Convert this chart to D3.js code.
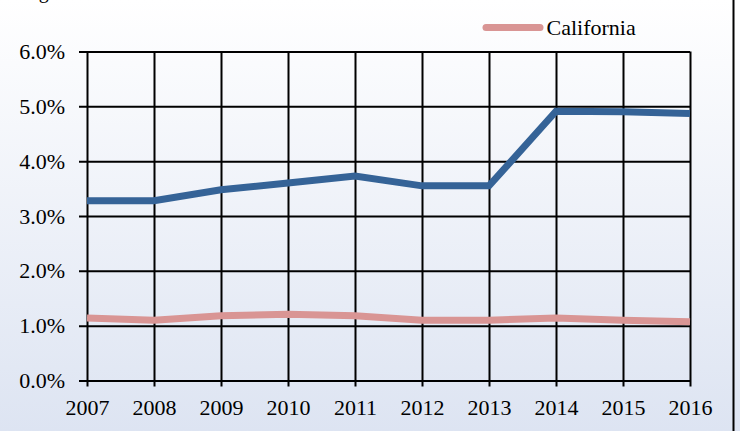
<!DOCTYPE html>
<html>
<head>
<meta charset="utf-8">
<script src="https://cdn.jsdelivr.net/npm/d3@7"></script>
<style>
  html, body { margin: 0; padding: 0; background: #fff; }
  svg { display: block; }
  svg text { font-family: 'Liberation Serif', 'Times New Roman', serif; font-size: 22px; fill: #000; }
</style>
</head>
<body>
<script>
// chart values
const years      = ['2007', '2008', '2009', '2010', '2011', '2012', '2013', '2014', '2015', '2016'];
const otherRate  = [3.28, 3.28, 3.48, 3.60, 3.73, 3.55, 3.55, 4.91, 4.90, 4.87];
const caRate     = [1.14, 1.10, 1.18, 1.21, 1.18, 1.10, 1.10, 1.14, 1.10, 1.07];
const yTicks     = [0, 1, 2, 3, 4, 5, 6];
const legendName = 'California';

const W = 740, H = 431;
const plotL = 87, plotR = 690, plotT = 51.5, plotB = 380.5;

const svg = d3.select('body').append('svg')
  .attr('width', W)
  .attr('height', H);

// background runs from white at the top to a pale blue at the bottom
const grad = svg.append('defs').append('linearGradient')
  .attr('id', 'bg')
  .attr('x1', 0).attr('y1', 0).attr('x2', 0).attr('y2', 1);
grad.append('stop').attr('offset', '0%').attr('stop-color', '#ffffff');
grad.append('stop').attr('offset', '100%').attr('stop-color', '#dde4f2');

svg.append('rect')
  .attr('width', W).attr('height', H)
  .attr('fill', 'url(#bg)');

// chart border on the right edge, the rest is cropped off
svg.append('line')
  .attr('x1', 733.5).attr('x2', 733.5)
  .attr('y1', 0).attr('y2', H)
  .attr('stroke', '#000').attr('stroke-width', 2);

// bit of the cut off title
svg.append('text')
  .attr('x', 22).attr('y', -2)
  .style('font-size', '20px')
  .text('Figure');

const x = d3.scalePoint().domain(years).range([plotL, plotR]);
const y = d3.scaleLinear().domain([0, 6]).range([plotB, plotT]);

// y axis with gridlines
const yAxis = svg.append('g')
  .attr('transform', `translate(${plotL},0)`)
  .call(d3.axisLeft(y)
    .tickValues(yTicks)
    .tickFormat(d => d.toFixed(1) + '%')
    .tickSizeInner(-(plotR - plotL))
    .tickSizeOuter(0)
    .tickPadding(22));
yAxis.select('.domain').remove();
yAxis.selectAll('line')
  .attr('x1', -8)
  .attr('stroke', '#000').attr('stroke-width', 2);

// x axis with gridlines
const xAxis = svg.append('g')
  .attr('transform', `translate(0,${plotB})`)
  .call(d3.axisBottom(x)
    .tickSizeInner(-(plotB - plotT))
    .tickSizeOuter(0)
    .tickPadding(19));
xAxis.select('.domain').remove();
xAxis.selectAll('line')
  .attr('y1', 6)
  .attr('stroke', '#000').attr('stroke-width', 2);

// the series
const line = d3.line()
  .x((d, i) => x(years[i]))
  .y(d => y(d));

svg.append('path')
  .datum(caRate)
  .attr('d', line)
  .attr('fill', 'none')
  .attr('stroke', '#d99594')
  .attr('stroke-width', 7);

svg.append('path')
  .datum(otherRate)
  .attr('d', line)
  .attr('fill', 'none')
  .attr('stroke', '#356397')
  .attr('stroke-width', 7);

// legend
const legend = svg.append('g').attr('transform', 'translate(486,27.5)');
legend.append('line')
  .attr('x1', 0).attr('x2', 54)
  .attr('stroke', '#d99594')
  .attr('stroke-width', 7)
  .attr('stroke-linecap', 'round');
legend.append('text')
  .attr('x', 60.5).attr('y', 7.5)
  .text(legendName);
</script>
</body>
</html>
